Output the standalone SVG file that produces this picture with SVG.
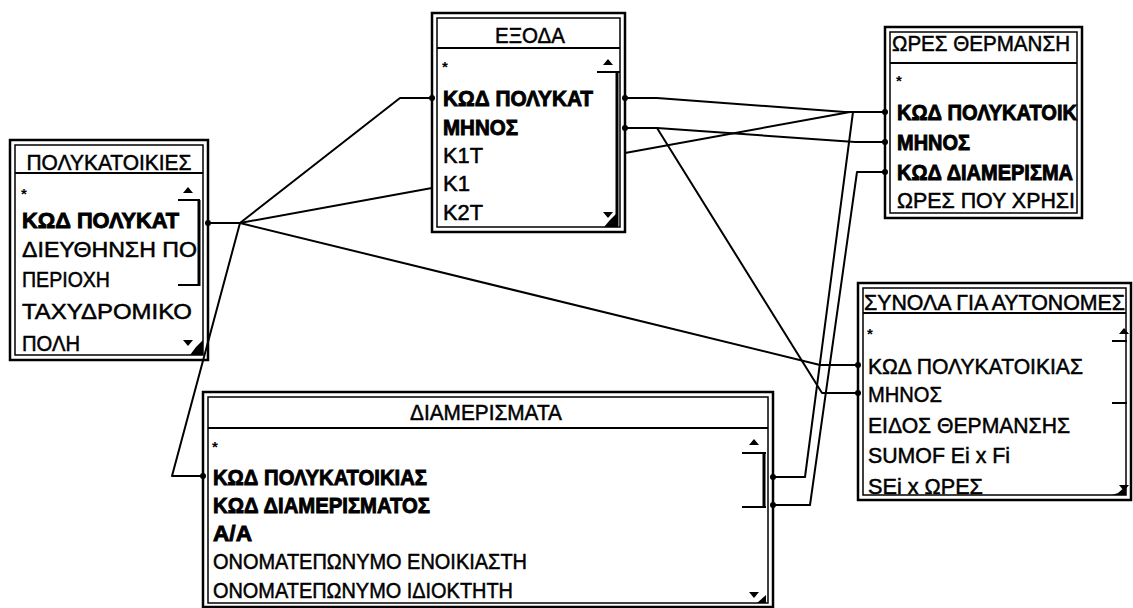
<svg xmlns="http://www.w3.org/2000/svg" width="1133" height="608" viewBox="0 0 1133 608">
<style>
.bg{fill:#fff}
.outer{fill:#fff;stroke:#000;stroke-width:2.5}
.inner{fill:none;stroke:#000;stroke-width:1.5}
.sep{stroke:#000;stroke-width:2}
.t{font-family:"Liberation Sans",Arial,sans-serif;font-size:22px;fill:#000;stroke:#000;stroke-width:0.5}
.b{font-weight:bold;stroke-width:0.9}
.star{font-family:"Liberation Sans",Arial,sans-serif;font-size:15px;font-weight:bold;fill:#000}
.sb{stroke:#000;stroke-width:2;fill:none}
.sbt{stroke:#000;stroke-width:3;fill:none}
.arr{fill:#000}
.conn{fill:none;stroke:#000;stroke-width:2;stroke-linejoin:round}
.dot{fill:#000}
</style>
<rect class="bg" x="0" y="0" width="1133" height="608"/>

<g id="polykatoikies">
<rect class="outer" x="10" y="140" width="198" height="220"/>
<rect class="inner" x="15" y="145" width="188" height="210"/>
<line class="sep" x1="15" y1="173" x2="203" y2="173"/>
<text class="t" x="109" y="169.5" text-anchor="middle" textLength="165" lengthAdjust="spacingAndGlyphs">ΠΟΛΥΚΑΤΟΙΚΙΕΣ</text>
<text class="star" x="21" y="199">*</text>
<text class="t b" x="22" y="228" textLength="157" lengthAdjust="spacingAndGlyphs">ΚΩΔ ΠΟΛΥΚΑΤ</text>
<text class="t" x="22" y="257" textLength="175" lengthAdjust="spacingAndGlyphs">ΔΙΕΥΘΗΝΣΗ ΠΟ</text>
<text class="t" x="22" y="287" textLength="88" lengthAdjust="spacingAndGlyphs">ΠΕΡΙΟΧΗ</text>
<text class="t" x="22" y="319" textLength="170" lengthAdjust="spacingAndGlyphs">ΤΑΧΥΔΡΟΜΙΚΟ</text>
<text class="t" x="22" y="351" textLength="58" lengthAdjust="spacingAndGlyphs">ΠΟΛΗ</text>
<polygon class="arr" points="183,193 193,193 188,187"/>
<line class="sb" x1="178" y1="200" x2="200" y2="200"/>
<line class="sbt" x1="199" y1="200" x2="199" y2="286"/>
<line class="sb" x1="178" y1="285" x2="200" y2="285"/>
<polygon class="arr" points="183,340 193,340 188,346"/>
<polygon class="arr" points="196,347 203,340 203,355 190,355"/>
</g>

<g id="exoda">
<rect class="outer" x="432" y="13" width="193" height="219"/>
<rect class="inner" x="437" y="18" width="183" height="209"/>
<line class="sep" x1="437" y1="48" x2="620" y2="48"/>
<text class="t" x="530" y="43" text-anchor="middle" textLength="70" lengthAdjust="spacingAndGlyphs">ΕΞΟΔΑ</text>
<text class="star" x="442" y="72">*</text>
<text class="t b" x="443" y="106" textLength="150" lengthAdjust="spacingAndGlyphs">ΚΩΔ ΠΟΛΥΚΑΤ</text>
<text class="t b" x="443" y="135" textLength="75" lengthAdjust="spacingAndGlyphs">ΜΗΝΟΣ</text>
<text class="t" x="443" y="163" textLength="40" lengthAdjust="spacingAndGlyphs">K1T</text>
<text class="t" x="443" y="191" textLength="27" lengthAdjust="spacingAndGlyphs">K1</text>
<text class="t" x="443" y="220" textLength="40" lengthAdjust="spacingAndGlyphs">K2T</text>
<polygon class="arr" points="603,65 613,65 608,59"/>
<line class="sb" x1="597" y1="72" x2="620" y2="72"/>
<line class="sbt" x1="617" y1="72" x2="617" y2="226"/>
<polygon class="arr" points="603,212 613,212 608,218"/>
<polygon class="arr" points="610,220 618,212 618,227 604,227"/>
</g>

<g id="ores">
<rect class="outer" x="885" y="27" width="197" height="191"/>
<rect class="inner" x="890" y="32" width="187" height="181"/>
<line class="sep" x1="890" y1="63" x2="1077" y2="63"/>
<text class="t" x="892" y="51" textLength="178" lengthAdjust="spacingAndGlyphs">ΩΡΕΣ ΘΕΡΜΑΝΣΗ</text>
<text class="star" x="896" y="86">*</text>
<text class="t b" x="897" y="120" textLength="180" lengthAdjust="spacingAndGlyphs">ΚΩΔ ΠΟΛΥΚΑΤΟΙΚ</text>
<text class="t b" x="897" y="150" textLength="73" lengthAdjust="spacingAndGlyphs">ΜΗΝΟΣ</text>
<text class="t b" x="897" y="180" textLength="176" lengthAdjust="spacingAndGlyphs">ΚΩΔ ΔΙΑΜΕΡΙΣΜΑ</text>
<text class="t" x="897" y="208" textLength="178" lengthAdjust="spacingAndGlyphs">ΩΡΕΣ ΠΟΥ ΧΡΗΣΙ</text>
</g>

<g id="synola">
<rect class="outer" x="858" y="283" width="273" height="217"/>
<rect class="inner" x="863" y="288" width="263" height="207"/>
<line class="sep" x1="863" y1="313" x2="1126" y2="313"/>
<text class="t" x="864" y="310" textLength="261" lengthAdjust="spacingAndGlyphs">ΣΥΝΟΛΑ ΓΙΑ ΑΥΤΟΝΟΜΕΣ</text>
<text class="star" x="867" y="339">*</text>
<text class="t" x="868" y="374" textLength="215" lengthAdjust="spacingAndGlyphs">ΚΩΔ ΠΟΛΥΚΑΤΟΙΚΙΑΣ</text>
<text class="t" x="868" y="402" textLength="74" lengthAdjust="spacingAndGlyphs">ΜΗΝΟΣ</text>
<text class="t" x="868" y="432.5" textLength="202" lengthAdjust="spacingAndGlyphs">ΕΙΔΟΣ ΘΕΡΜΑΝΣΗΣ</text>
<text class="t" x="868" y="462.5" textLength="142" lengthAdjust="spacingAndGlyphs">SUMOF Ei x Fi</text>
<text class="t" x="868" y="494" textLength="115" lengthAdjust="spacingAndGlyphs">SEi x ΩΡΕΣ</text>
<polygon class="arr" points="1119,334 1129,334 1124,328"/>
<line class="sb" x1="1112" y1="341" x2="1127" y2="341"/>
<line class="sb" x1="1112" y1="403" x2="1127" y2="403"/>
<polygon class="arr" points="1119,485 1129,485 1124,491"/>
<polygon class="arr" points="1118,493 1126,486 1126,495 1112,495"/>
</g>

<g id="diamerismata">
<rect class="outer" x="203" y="392" width="570" height="215"/>
<rect class="inner" x="208" y="397" width="560" height="206"/>
<line class="sep" x1="208" y1="428" x2="768" y2="428"/>
<text class="t" x="486" y="420" text-anchor="middle" textLength="152" lengthAdjust="spacingAndGlyphs">ΔΙΑΜΕΡΙΣΜΑΤΑ</text>
<text class="star" x="212" y="452">*</text>
<text class="t b" x="213" y="485" textLength="214" lengthAdjust="spacingAndGlyphs">ΚΩΔ ΠΟΛΥΚΑΤΟΙΚΙΑΣ</text>
<text class="t b" x="213" y="513" textLength="217" lengthAdjust="spacingAndGlyphs">ΚΩΔ ΔΙΑΜΕΡΙΣΜΑΤΟΣ</text>
<text class="t b" x="213" y="541" textLength="39" lengthAdjust="spacingAndGlyphs">Α/Α</text>
<text class="t" x="213" y="569" textLength="314" lengthAdjust="spacingAndGlyphs">ΟΝΟΜΑΤΕΠΩΝΥΜΟ ΕΝΟΙΚΙΑΣΤΗ</text>
<text class="t" x="213" y="598" textLength="300" lengthAdjust="spacingAndGlyphs">ΟΝΟΜΑΤΕΠΩΝΥΜΟ ΙΔΙΟΚΤΗΤΗ</text>
<polygon class="arr" points="749,445 759,445 754,439"/>
<line class="sb" x1="742" y1="453" x2="766" y2="453"/>
<line class="sbt" x1="764" y1="453" x2="764" y2="508"/>
<line class="sb" x1="742" y1="507" x2="766" y2="507"/>
<polygon class="arr" points="749,592 759,592 754,598"/>
<polygon class="arr" points="757,603 766,595 766,603"/>
</g>

<g id="connectors">
<path class="conn" d="M208,223 H240 L400,98 H432"/>
<path class="conn" d="M240,223 L432,188"/>
<path class="conn" d="M625,153 L850,112 H885"/>
<path class="conn" d="M240,223 L820,365 H858"/>
<path class="conn" d="M240,223 L172,476 H203"/>
<path class="conn" d="M625,98 H657 L845,112 H885"/>
<path class="conn" d="M625,128 H657 L855,142 H885"/>
<path class="conn" d="M657,128 L822,393 H858"/>
<path class="conn" d="M773,477 H805 L853,112"/>
<path class="conn" d="M773,505 H810 L857,172 H885"/>
<circle class="dot" cx="208" cy="223" r="3"/>
<circle class="dot" cx="432" cy="98" r="3"/>
<circle class="dot" cx="625" cy="98" r="3"/>
<circle class="dot" cx="625" cy="128" r="3"/>
<circle class="dot" cx="885" cy="112" r="3"/>
<circle class="dot" cx="885" cy="142" r="3"/>
<circle class="dot" cx="885" cy="172" r="3"/>
<circle class="dot" cx="858" cy="365" r="3"/>
<circle class="dot" cx="858" cy="393" r="3"/>
<circle class="dot" cx="203" cy="476" r="3"/>
<circle class="dot" cx="773" cy="477" r="3"/>
<circle class="dot" cx="773" cy="505" r="3"/>
</g>
</svg>
